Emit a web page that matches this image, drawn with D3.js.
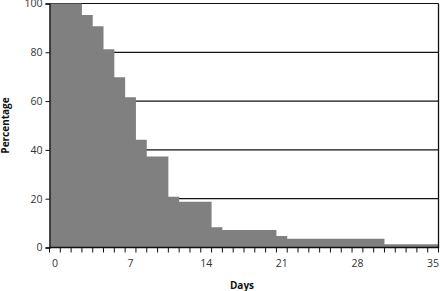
<!DOCTYPE html>
<html>
<head>
<meta charset="utf-8">
<script src="https://cdn.jsdelivr.net/npm/d3@7"></script>
<style>
  body { margin: 0; background: #fff; }
  svg text { font-family: "Open Sans", "Noto Sans", sans-serif; }
</style>
</head>
<body>
<svg width="440" height="291"></svg>
<script>
// one value per day, 0..35
var days = d3.range(0, 36);
var percent = [100, 100, 100, 95.3, 90.7, 81.2, 69.8, 61.6, 44.2, 37.3,
               37.3, 20.8, 18.8, 18.8, 18.8, 8.3, 7.2, 7.2, 7.2, 7.2,
               7.2, 4.7, 3.6, 3.6, 3.6, 3.6, 3.6, 3.6, 3.6, 3.6,
               3.6, 1.3, 1.3, 1.3, 1.3, 1.3];
var xLabels = [0, 7, 14, 21, 28, 35];
var yTicks = [0, 20, 40, 60, 80, 100];

var svg = d3.select("svg");
var plotL = 49.5, plotR = 438.5, plotT = 3.5, plotB = 247.5;

var x = d3.scaleBand().domain(days).range([plotL, plotR]).padding(0);
var y = d3.scaleLinear().domain([0, 100]).range([plotB, plotT]);

// gridlines behind the area
svg.append("g").selectAll("line")
  .data(yTicks.filter(function(d) { return d > 0; }))
  .join("line")
  .attr("x1", plotL).attr("x2", plotR)
  .attr("y1", function(d) { return y(d); })
  .attr("y2", function(d) { return y(d); })
  .attr("stroke", "#111").attr("stroke-width", 1.2);

// step area built from day bands
var pts = [];
days.forEach(function(d, i) {
  pts.push({x: x(d), v: percent[i]});
  pts.push({x: x(d) + x.bandwidth(), v: percent[i]});
});
var area = d3.area()
  .x(function(d) { return d.x; })
  .y0(plotB)
  .y1(function(d) { return y(d.v); });
svg.append("path")
  .attr("d", area(pts))
  .attr("fill", "#808080");

// right border
svg.append("line")
  .attr("x1", plotR).attr("x2", plotR)
  .attr("y1", plotT).attr("y2", plotB)
  .attr("stroke", "#111").attr("stroke-width", 1.3);

// y axis
var yAxis = svg.append("g")
  .attr("transform", "translate(" + plotL + ",0)")
  .call(d3.axisLeft(y).tickValues(yTicks).tickSize(4).tickPadding(3));
yAxis.select(".domain").attr("stroke", "#111").attr("stroke-width", 1.3);
yAxis.selectAll(".tick line").attr("stroke", "#111");
yAxis.selectAll("text").attr("font-size", 10.5).attr("fill", "#333");

// x axis: ticks at band edges, labels at band centres
var xg = svg.append("g");
xg.append("line")
  .attr("x1", plotL - 0.6).attr("x2", plotR + 0.6)
  .attr("y1", plotB).attr("y2", plotB)
  .attr("stroke", "#111").attr("stroke-width", 1.3);
xg.selectAll(".mt")
  .data(d3.range(0, 37))
  .join("line")
  .attr("class", "mt")
  .attr("x1", function(d) { return plotL + d * x.bandwidth(); })
  .attr("x2", function(d) { return plotL + d * x.bandwidth(); })
  .attr("y1", plotB).attr("y2", plotB + 5)
  .attr("stroke", "#111");
xg.selectAll("text")
  .data(xLabels)
  .join("text")
  .attr("x", function(d) { return x(d) + x.bandwidth() / 2; })
  .attr("y", 267)
  .attr("text-anchor", "middle")
  .attr("font-size", 10.5)
  .attr("fill", "#333")
  .text(function(d) { return d; });

svg.append("text")
  .attr("x", (plotL + plotR) / 2 - 2)
  .attr("y", 289)
  .attr("text-anchor", "middle")
  .attr("font-size", 10)
  .attr("font-weight", "bold")
  .attr("fill", "#111")
  .text("Days");

svg.append("text")
  .attr("transform", "translate(9," + (plotT + plotB) / 2 + ") rotate(-90)")
  .attr("text-anchor", "middle")
  .attr("font-size", 10)
  .attr("font-weight", "bold")
  .attr("fill", "#111")
  .text("Percentage");
</script>
</body>
</html>
